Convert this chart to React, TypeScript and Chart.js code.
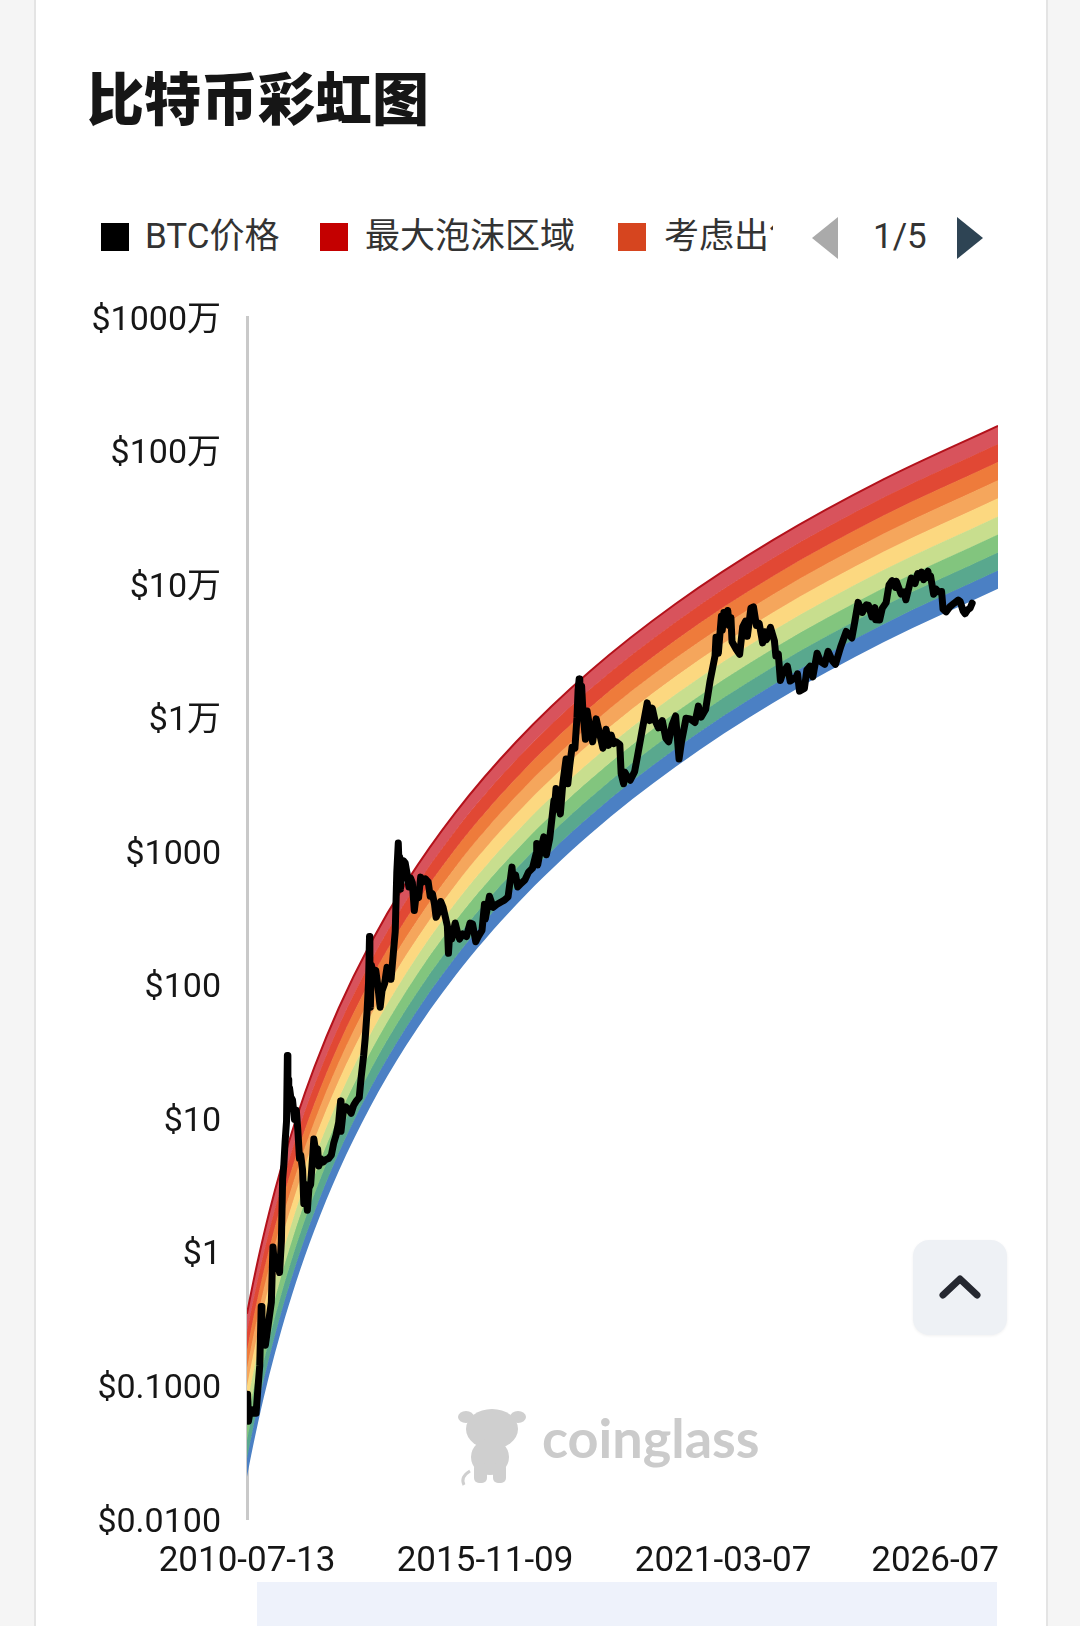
import React, { useEffect, useRef } from 'react';
import { Chart, registerables } from 'chart.js';

Chart.register(...registerables);

// ---------------- data ----------------
const X_ORIGIN = '2010-07-13';

const xTickDates = ['2010-07-13', '2015-11-09', '2021-03-07', '2026-07-04'];
const xTickLabels = ['2010-07-13', '2015-11-09', '2021-03-07', '2026-07'];

const yTickValues = [0.01, 0.1, 1, 10, 100, 1000, 1e4, 1e5, 1e6, 1e7];
const yTickLabels = ['$0.0100', '$0.1000', '$1', '$10', '$100', '$1000', '$1万', '$10万', '$100万', '$1000万'];

const legendNames = ['BTC价格', '最大泡沫区域', '考虑出售'];
const legendColors = ['#000000', '#c40000', '#d6451f'];

const bandNames = ['最大泡沫区域', '考虑出售', 'FOMO加剧', '这是泡沫吗？', '持有', '仍然便宜', '积累', '买入', '跳楼价'];
const bandColors = ['#d8535c', '#e14834', '#ee7b3b', '#f5a65c', '#fcd880', '#c8de8e', '#82c57e', '#59a88e', '#4b80c4'];

// middle line of the rainbow (log10 of USD)
const rainbowDates = [
  '2010-07-13', '2010-08-02', '2010-09-01', '2010-10-21', '2011-01-09', '2011-04-19',
  '2011-08-17', '2012-01-14', '2012-08-01', '2013-04-08', '2014-02-02', '2015-03-09',
  '2016-07-21', '2018-03-13', '2020-02-11', '2022-04-21', '2024-10-07', '2027-05-01',
];
const rainbowMidLog = [
  -1.123, -1.028, -0.892, -0.679, -0.37, -0.028,
  0.331, 0.721, 1.166, 1.634, 2.105, 2.626,
  3.16, 3.686, 4.191, 4.671, 5.124, 5.525,
];
// band edges, top to bottom, as log10 offsets from the middle line
const bandEdgeOffsets = [0.66, 0.524, 0.389, 0.253, 0.118, -0.018, -0.153, -0.289, -0.424, -0.56];

const priceDates = [
  // 2010
  '2010-07-13', '2010-07-18', '2010-07-25', '2010-08-05', '2010-08-20', '2010-09-05', '2010-09-25', '2010-10-10',
  '2010-10-25', '2010-11-06', '2010-11-12', '2010-11-20', '2010-12-01', '2010-12-10', '2010-12-25',
  // 2011
  '2011-01-10', '2011-01-28', '2011-02-10', '2011-02-20', '2011-03-05', '2011-03-25', '2011-04-05', '2011-04-20',
  '2011-04-30', '2011-05-10', '2011-05-20', '2011-06-01', '2011-06-08', '2011-06-12', '2011-06-15', '2011-06-19',
  '2011-06-25', '2011-07-05', '2011-07-20', '2011-08-05', '2011-08-20', '2011-09-01', '2011-09-15', '2011-09-25',
  '2011-10-10', '2011-10-20', '2011-11-01', '2011-11-18', '2011-12-01', '2011-12-15',
  // 2012
  '2012-01-01', '2012-01-10', '2012-01-25', '2012-02-10', '2012-02-20', '2012-03-05', '2012-03-25', '2012-04-15',
  '2012-05-10', '2012-06-01', '2012-06-20', '2012-07-10', '2012-07-31', '2012-08-16', '2012-08-19', '2012-09-05',
  '2012-09-25', '2012-10-15', '2012-11-10', '2012-11-30', '2012-12-20',
  // 2013
  '2013-01-15', '2013-01-31', '2013-02-20', '2013-03-05', '2013-03-20', '2013-04-01', '2013-04-09', '2013-04-12',
  '2013-04-16', '2013-04-25', '2013-05-10', '2013-05-30', '2013-06-15', '2013-07-05', '2013-07-20', '2013-08-10',
  '2013-08-30', '2013-09-20', '2013-10-02', '2013-10-20', '2013-11-05', '2013-11-18', '2013-11-30', '2013-12-07',
  '2013-12-12', '2013-12-18', '2013-12-28',
  // 2014
  '2014-01-10', '2014-01-25', '2014-02-10', '2014-02-25', '2014-03-10', '2014-03-25', '2014-04-10', '2014-04-25',
  '2014-05-15', '2014-06-01', '2014-06-20', '2014-07-10', '2014-08-01', '2014-08-18', '2014-09-05', '2014-09-22',
  '2014-10-05', '2014-10-25', '2014-11-12', '2014-12-01', '2014-12-20',
  // 2015
  '2015-01-05', '2015-01-14', '2015-01-25', '2015-02-10', '2015-03-10', '2015-03-30', '2015-04-15', '2015-05-10',
  '2015-06-10', '2015-07-10', '2015-07-30', '2015-08-25', '2015-09-15', '2015-10-15', '2015-11-04', '2015-11-11',
  '2015-12-15',
  // 2016
  '2016-01-15', '2016-02-15', '2016-03-15', '2016-04-15', '2016-05-15', '2016-06-16', '2016-06-24', '2016-07-15',
  '2016-08-02', '2016-08-30', '2016-09-30', '2016-10-30', '2016-11-30', '2016-12-31',
  // 2017
  '2017-01-04', '2017-01-12', '2017-02-01', '2017-03-03', '2017-03-24', '2017-04-20', '2017-05-25', '2017-05-28',
  '2017-06-11', '2017-07-16', '2017-08-05', '2017-09-01', '2017-09-15', '2017-10-01', '2017-10-20', '2017-11-12',
  '2017-11-29', '2017-12-08', '2017-12-17', '2017-12-22',
  // 2018
  '2018-01-06', '2018-01-17', '2018-02-06', '2018-02-20', '2018-03-10', '2018-04-06', '2018-05-05', '2018-06-29',
  '2018-07-25', '2018-08-14', '2018-09-05', '2018-09-25', '2018-10-15', '2018-11-14', '2018-11-25', '2018-12-15',
  '2018-12-25',
  // 2019
  '2019-01-15', '2019-02-07', '2019-03-15', '2019-04-05', '2019-05-15', '2019-06-26', '2019-07-16', '2019-08-06',
  '2019-08-29', '2019-09-25', '2019-10-27', '2019-11-25', '2019-12-18',
  // 2020
  '2020-01-15', '2020-02-13', '2020-03-12', '2020-04-01', '2020-05-08', '2020-06-10', '2020-07-20', '2020-08-17',
  '2020-09-08', '2020-10-15', '2020-11-20', '2020-12-31',
  // 2021
  '2021-01-08', '2021-01-27', '2021-02-21', '2021-02-28', '2021-03-13', '2021-03-25', '2021-04-14', '2021-04-25',
  '2021-05-10', '2021-05-19', '2021-06-22', '2021-07-20', '2021-08-14', '2021-09-06', '2021-09-21', '2021-10-20',
  '2021-11-10', '2021-12-04', '2021-12-27',
  // 2022
  '2022-01-24', '2022-02-10', '2022-02-24', '2022-03-29', '2022-04-30', '2022-05-12', '2022-06-01', '2022-06-18',
  '2022-07-08', '2022-08-14', '2022-09-06', '2022-10-25', '2022-11-05', '2022-11-21', '2022-12-31',
  // 2023
  '2023-01-20', '2023-02-16', '2023-03-10', '2023-04-14', '2023-05-12', '2023-06-15', '2023-07-13', '2023-08-17',
  '2023-09-11', '2023-10-24', '2023-12-08',
  // 2024
  '2024-01-23', '2024-02-15', '2024-03-14', '2024-04-17', '2024-05-21', '2024-06-07', '2024-07-05', '2024-07-29',
  '2024-08-05', '2024-09-06', '2024-09-27', '2024-10-29', '2024-11-22', '2024-12-17',
  // 2025
  '2025-01-13', '2025-01-20', '2025-02-28', '2025-03-24', '2025-04-08', '2025-05-22', '2025-06-22', '2025-07-14',
  '2025-08-02', '2025-08-14', '2025-09-01', '2025-09-18', '2025-10-06', '2025-10-10', '2025-10-27', '2025-11-21',
  '2025-12-10', '2025-12-31',
  // 2026
  '2026-01-25', '2026-02-06', '2026-03-03', '2026-04-05', '2026-05-08', '2026-06-10', '2026-06-26', '2026-07-20',
  '2026-08-05', '2026-08-25', '2026-09-15', '2026-10-02',
];

const priceValues = [
  // 2010
  0.06, 0.086, 0.054, 0.062, 0.066, 0.062, 0.062, 0.095,
  0.14, 0.39, 0.27, 0.28, 0.21, 0.2, 0.25,
  // 2011
  0.32, 0.42, 1.09, 0.85, 0.92, 0.8, 0.7, 1.2,
  3.5, 4.5, 6.6, 9.5, 29.6, 15, 19.5, 15,
  17, 14.5, 13.7, 9.8, 11.5, 8.2, 5, 5.3,
  4.1, 2.3, 3.2, 2.05, 3.0, 3.2,
  // 2012
  5.3, 7.0, 5.7, 5.9, 4.4, 5.0, 4.7, 4.9,
  5.0, 5.3, 6.5, 7.5, 9.3, 13.5, 8.0, 11,
  12.2, 11.8, 10.9, 12.5, 13.4,
  // 2013
  14.3, 20.4, 29.5, 40, 63, 104, 230, 100,
  68, 140, 117, 128, 100, 68, 90, 102,
  135, 126, 110, 170, 250, 700, 1150, 750,
  900, 520, 740,
  // 2014
  850, 820, 680, 540, 630, 580, 360, 470,
  450, 640, 590, 620, 590, 460, 480, 400,
  320, 350, 420, 380, 320,
  // 2015
  275, 172, 250, 220, 290, 245, 220, 240,
  230, 290, 285, 210, 230, 255, 400, 310,
  460,
  // 2016
  380, 400, 415, 430, 455, 760, 620, 665,
  540, 575, 610, 700, 745, 965,
  // 2017
  1140, 790, 990, 1280, 940, 1240, 2400, 2050,
  2950, 1900, 3200, 4900, 3200, 4400, 6000, 5900,
  10000, 16000, 19500, 13800,
  // 2018
  17200, 11000, 6900, 11200, 8800, 6600, 9800, 5900,
  8200, 6200, 7400, 6400, 6600, 6300, 3800, 3200,
  3900,
  // 2019
  3600, 3400, 3950, 5000, 8000, 12900, 9500, 11800,
  9500, 8400, 9500, 7000, 6600,
  // 2020
  8800, 10300, 4900, 6600, 9900, 9800, 9200, 12200,
  10100, 11500, 18700, 29000,
  // 2021
  40000, 30400, 57500, 45200, 61200, 51700, 63500, 49100,
  56000, 37000, 32500, 29800, 47800, 52700, 40700, 66000,
  67500, 49000, 50700,
  // 2022
  36300, 44000, 38300, 47400, 37700, 29000, 30000, 19000,
  21600, 24300, 18800, 20100, 21300, 15800, 16550,
  // 2023
  22700, 24300, 20200, 30400, 26300, 25100, 31400, 26600,
  25100, 34000, 44200,
  // 2024
  39500, 51800, 73000, 61300, 70100, 69300, 56700, 66800,
  54000, 53900, 65800, 72700, 98900, 106000,
  // 2025
  94500, 105000, 84300, 87500, 76300, 111000, 101000, 120000,
  113000, 123000, 108000, 117000, 125000, 112000, 115000, 84000,
  92000, 87500,
  // 2026
  88000, 65000, 62000, 68000, 72000, 76000, 74000, 63000,
  60000, 64000, 66000, 72000,
];

// ---------------- helpers ----------------
const DAY = 86400000;
const dayOf = (s: string) => (Date.parse(s + 'T00:00:00Z') - Date.parse(X_ORIGIN + 'T00:00:00Z')) / DAY;

const TICK_FONT = 'Roboto, "Noto Sans CJK SC", sans-serif';
const UI_FONT = 'Roboto, "Noto Sans CJK SC", sans-serif';

const zeroPadding = (scale: any) => {
  scale.paddingTop = 0;
  scale.paddingBottom = 0;
  scale.paddingLeft = 0;
  scale.paddingRight = 0;
};

export default function App() {
  const canvasRef = useRef<HTMLCanvasElement | null>(null);

  useEffect(() => {
    const canvas = canvasRef.current;
    if (!canvas) return;

    const priceSet: any = {
      label: legendNames[0],
      data: priceDates.map((d, i) => ({ x: dayOf(d), y: priceValues[i] })),
      borderColor: legendColors[0],
      backgroundColor: legendColors[0],
      borderWidth: 7,
      borderJoinStyle: 'round',
      borderCapStyle: 'round',
      pointRadius: 0,
      tension: 0,
      fill: false,
    };

    const edgeSets: any[] = bandEdgeOffsets.map((off, k) => {
      const hasBand = k < bandColors.length;
      return {
        label: hasBand ? bandNames[k] : 'edge',
        data: rainbowDates.map((d, i) => ({ x: dayOf(d), y: Math.pow(10, rainbowMidLog[i] + off) })),
        borderColor: k === 0 ? '#b3121b' : hasBand ? bandColors[k] : 'rgba(0,0,0,0)',
        borderWidth: k === 0 ? 2 : hasBand ? 1 : 0.01,
        backgroundColor: hasBand ? bandColors[k] : 'rgba(0,0,0,0)',
        fill: hasBand ? '+1' : false,
        pointRadius: 0,
        cubicInterpolationMode: 'monotone',
      };
    });

    const xMax = dayOf(rainbowDates[rainbowDates.length - 1]);

    const chart = new Chart(canvas, {
      type: 'line',
      data: { datasets: [priceSet, ...edgeSets] },
      options: {
        animation: false,
        responsive: false,
        devicePixelRatio: 1,
        layout: { padding: { top: 37, right: 82, left: 0, bottom: 0 } },
        plugins: {
          legend: { display: false },
          tooltip: { enabled: false },
        },
        elements: { point: { radius: 0 } },
        scales: {
          x: {
            type: 'linear',
            min: 0,
            max: xMax,
            grid: { display: false, drawTicks: false },
            border: { display: false },
            afterBuildTicks: (scale: any) => {
              scale.ticks = xTickDates.map((d) => ({ value: dayOf(d) }));
            },
            afterFit: (scale: any) => {
              scale.height = 81;
              zeroPadding(scale);
            },
            ticks: {
              autoSkip: false,
              maxRotation: 0,
              minRotation: 0,
              padding: 22,
              color: '#161616',
              font: { family: TICK_FONT, size: 35 },
              callback: (_v: any, i: number) =>
                i === xTickLabels.length - 1 ? xTickLabels[i] + '      ' : xTickLabels[i],
            },
          },
          y: {
            type: 'logarithmic',
            min: 0.01,
            max: 1e7,
            grid: { display: false, drawTicks: false },
            border: { display: true, color: '#c9c9c9', width: 3 },
            afterBuildTicks: (scale: any) => {
              scale.ticks = yTickValues.map((v) => ({ value: v }));
            },
            afterFit: (scale: any) => {
              scale.width = 247;
              zeroPadding(scale);
            },
            ticks: {
              autoSkip: false,
              padding: 26,
              labelOffset: 4,
              color: '#161616',
              font: { family: TICK_FONT, size: 34 },
              callback: (_v: any, i: number) => yTickLabels[i],
            },
          },
        },
      } as any,
    });

    return () => chart.destroy();
  }, []);

  const square = (left: number, color: string) => (
    <div style={{ position: 'absolute', left, top: 223, width: 28, height: 28, background: color }} />
  );
  const legendText = (left: number, text: string, width?: number) => (
    <div
      style={{
        position: 'absolute',
        left,
        top: 215,
        height: 44,
        lineHeight: '44px',
        width: width,
        overflow: 'hidden',
        whiteSpace: 'nowrap',
        fontFamily: UI_FONT,
        fontSize: 35,
        color: '#333',
      }}
    >
      {text}
    </div>
  );

  return (
    <div
      style={{
        position: 'absolute',
        left: 0,
        top: 0,
        width: 1080,
        height: 1626,
        background: '#f5f5f5',
        overflow: 'hidden',
      }}
    >
      {/* white card */}
      <div
        style={{
          position: 'absolute',
          left: 34,
          top: 0,
          width: 1014,
          height: 1626,
          background: '#ffffff',
          borderLeft: '2px solid #e4e4e4',
          borderRight: '2px solid #e4e4e4',
          boxSizing: 'border-box',
        }}
      />

      {/* title */}
      <div
        style={{
          position: 'absolute',
          left: 87,
          top: 63,
          fontFamily: '"Noto Sans CJK SC", sans-serif',
          fontWeight: 900,
          fontSize: 57,
          lineHeight: '64px',
          color: '#161616',
          whiteSpace: 'nowrap',
        }}
      >
        比特币彩虹图
      </div>

      {/* legend (page 1 of 5) */}
      {square(101, legendColors[0])}
      {legendText(145, legendNames[0])}
      {square(320, legendColors[1])}
      {legendText(365, legendNames[1])}
      {square(618, legendColors[2])}
      {legendText(664, legendNames[2], 109)}
      <div
        style={{
          position: 'absolute',
          left: 812,
          top: 217,
          width: 0,
          height: 0,
          borderTop: '21px solid transparent',
          borderBottom: '21px solid transparent',
          borderRight: '26px solid #aaaaaa',
        }}
      />
      <div
        style={{
          position: 'absolute',
          left: 873,
          top: 215,
          height: 44,
          lineHeight: '44px',
          fontFamily: UI_FONT,
          fontSize: 35,
          color: '#333',
        }}
      >
        1/5
      </div>
      <div
        style={{
          position: 'absolute',
          left: 957,
          top: 217,
          width: 0,
          height: 0,
          borderTop: '21px solid transparent',
          borderBottom: '21px solid transparent',
          borderLeft: '26px solid #2e4454',
        }}
      />

      {/* chart */}
      <canvas
        ref={canvasRef}
        width={1080}
        height={1320}
        style={{ position: 'absolute', left: 0, top: 280, width: 1080, height: 1320 }}
      />

      {/* coinglass watermark */}
      <svg
        width={72}
        height={84}
        viewBox="0 0 72 84"
        style={{ position: 'absolute', left: 456, top: 1403 }}
      >
        <g fill="#cfcfcf">
          <ellipse cx={10} cy={14} rx={8} ry={6} />
          <ellipse cx={62} cy={14} rx={8} ry={6} />
          <ellipse cx={36} cy={26} rx={26} ry={20} />
          <ellipse cx={34} cy={54} rx={19} ry={18} />
          <rect x={18} y={60} width={13} height={20} rx={5} />
          <rect x={37} y={60} width={13} height={20} rx={5} />
          <path d="M14 68 Q4 74 8 82" stroke="#cfcfcf" strokeWidth={3} fill="none" />
        </g>
      </svg>
      <div
        style={{
          position: 'absolute',
          left: 542,
          top: 1410,
          fontFamily: 'Lato, "Noto Sans", sans-serif',
          fontWeight: 700,
          fontSize: 54,
          lineHeight: '56px',
          color: '#cbcbcb',
          whiteSpace: 'nowrap',
        }}
      >
        coinglass
      </div>

      {/* back-to-top button */}
      <div
        style={{
          position: 'absolute',
          left: 913,
          top: 1240,
          width: 94,
          height: 95,
          borderRadius: 16,
          background: '#eef1f5',
          boxShadow: '0 1px 3px rgba(0,0,0,0.06)',
        }}
      >
        <svg width={94} height={95} viewBox="0 0 94 95">
          <polyline
            points="30,55 47,39 64,55"
            fill="none"
            stroke="#252830"
            strokeWidth={7}
            strokeLinecap="round"
            strokeLinejoin="round"
          />
        </svg>
      </div>

      {/* bottom bar */}
      <div
        style={{
          position: 'absolute',
          left: 257,
          top: 1582,
          width: 740,
          height: 44,
          background: '#eef2fb',
        }}
      />
    </div>
  );
}
